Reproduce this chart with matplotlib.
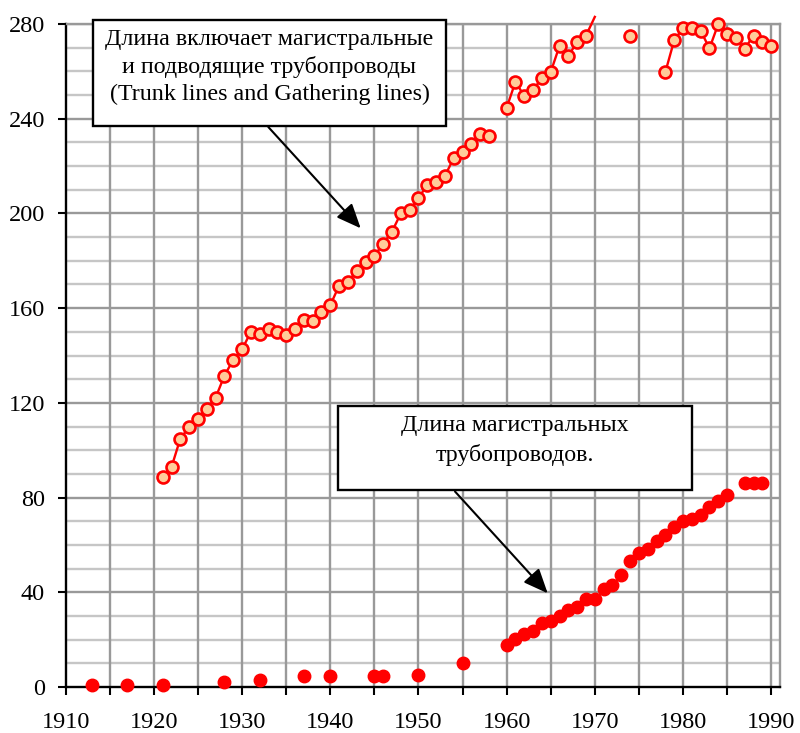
import numpy as np
import matplotlib
matplotlib.use("Agg")
import matplotlib.pyplot as plt
from matplotlib.patches import Rectangle

# ---- data ----
nan = np.nan
s1_years = list(range(1921, 1991))
s1_values = [88.7, 92.9, 104.9, 109.8, 113.3, 117.3, 122.2, 131.5, 138.2, 142.6,
             150.0, 149.2, 151.1, 150.0, 148.5, 151.1, 155.1, 154.4, 158.5, 161.2,
             169.5, 171.2, 175.5, 179.5, 182.1, 187.2, 192.3, 200.0, 201.4, 206.6,
             211.9, 213.4, 215.8, 223.4, 225.9, 229.3, 233.6, 232.8, nan, 244.6,
             255.6, 249.6, 252.2, 257.1, 259.7, 270.8, 266.5, 272.5, 275.1, 283.0,
             nan, nan, nan, 275.0, nan, nan, nan, 259.7, 273.1, 278.3,
             278.3, 277.2, 269.7, 280.0, 275.8, 273.9, 269.6, 275.1, 272.2, 270.7]

s2_years = [1913, 1917, 1921, 1928, 1932, 1937, 1940, 1945, 1946, 1950, 1955,
            1960, 1961, 1962, 1963, 1964, 1965, 1966, 1967, 1968, 1969, 1970,
            1971, 1972, 1973, 1974, 1975, 1976, 1977, 1978, 1979, 1980, 1981,
            1982, 1983, 1984, 1985, 1987, 1988, 1989]
s2_values = [1.0, 1.0, 1.0, 2.0, 2.8, 4.5, 4.5, 4.5, 4.5, 5.2, 10.3,
             17.7, 20.4, 22.2, 23.8, 27.2, 28.0, 29.8, 32.4, 33.9, 37.2, 37.2,
             41.3, 43.0, 47.3, 53.3, 56.6, 58.3, 61.8, 64.3, 67.6, 70.0, 70.8,
             72.8, 76.0, 78.4, 81.0, 86.1, 86.1, 86.1]

x_ticks_major = list(range(1910, 1991, 10))
y_ticks_major = list(range(0, 281, 40))

label_box1 = ["Длина включает магистральные",
              "и подводящие трубопроводы",
              "(Trunk lines and Gathering lines)"]
label_box2 = ["Длина магистральных", "трубопроводов."]

# ---- figure ----
W, H = 800, 733
fig = plt.figure(figsize=(W / 100, H / 100), dpi=100)
ax = fig.add_axes([65.7 / W, 1 - 687 / H, (780 - 65.7) / W, (687 - 24) / H])
serif = "Liberation Serif"

XMIN, XMAX, YMIN, YMAX = 1910, 1991, 0, 280
ax.set_xlim(XMIN, XMAX)
ax.set_ylim(YMIN, YMAX)

# grid
dark = "#999999"
light = "#c6c6c6"
for yv in range(10, 280, 10):
    if yv % 40 != 0:
        ax.axhline(yv, color=light, lw=1.7, zorder=0)
for yv in range(40, 281, 40):
    ax.axhline(yv, color=dark, lw=1.7, zorder=0.5)
for xv in range(1915, 1991, 5):
    ax.axvline(xv, color=dark, lw=1.7, zorder=0.5)

# spines
for side in ("left", "bottom"):
    ax.spines[side].set_color("black")
    ax.spines[side].set_linewidth(1.7)
for side in ("top", "right"):
    ax.spines[side].set_color(dark)
    ax.spines[side].set_linewidth(1.7)
for s in ax.spines.values():
    s.set_zorder(1)

ax.set_xticks(list(range(1910, 1991, 5)))
ax.set_xticklabels([str(x) if x in x_ticks_major else "" for x in range(1910, 1991, 5)])
ax.set_yticks(y_ticks_major)
ax.set_yticklabels([str(y) for y in y_ticks_major])
ax.tick_params(axis="both", direction="out", length=6, width=1.5, color="black",
               labelsize=17.5)
ax.tick_params(axis="x", pad=12)
ax.tick_params(axis="y", pad=9)
for lab in ax.get_xticklabels() + ax.get_yticklabels():
    lab.set_fontfamily(serif)

# series 1 (total length)
v1 = np.array(s1_values, dtype=float)
ax.plot(s1_years, v1, color="red", lw=1.7, zorder=3, clip_on=False)
mk1 = np.where(v1 <= YMAX, v1, np.nan)
ax.plot(s1_years, mk1, ls="none", marker="o", ms=8.6, mfc="#FFCC99",
        mec="red", mew=1.9, zorder=4, clip_on=False)

# series 2 (trunk lines)
ax.plot(s2_years, s2_values, ls="none", marker="o", ms=9.0, mfc="red",
        mec="red", zorder=4, clip_on=False)

# ---- annotation boxes (pixel positions from top-left) ----
def fx(px):
    return px / W

def fy(py):
    return 1 - py / H

def box(x0, y0, x1, y1):
    r = Rectangle((fx(x0), fy(y1)), fx(x1) - fx(x0), fy(y0) - fy(y1),
                  transform=fig.transFigure, facecolor="white",
                  edgecolor="black", lw=1.7, zorder=10)
    fig.add_artist(r)

box(93, 20, 446, 126)
for i, t in enumerate(label_box1):
    fig.text(fx(269.5), fy(39 + i * 27.7), t, ha="center", va="center",
             fontsize=17.3, family=serif, zorder=11)

box(338, 406, 692, 490)
for i, t in enumerate(label_box2):
    fig.text(fx(515), fy(425 + i * 30), t, ha="center", va="center",
             fontsize=17.3, family=serif, zorder=11)

# arrows
def arrow(x0, y0, x1, y1):
    a = ax.annotate("", xy=(x1, H - y1), xycoords="figure pixels",
                    xytext=(x0, H - y0), textcoords="figure pixels",
                    arrowprops=dict(arrowstyle="-|>,head_length=0.75,head_width=0.32",
                                    color="black", lw=1.5, shrinkA=0, shrinkB=0,
                                    mutation_scale=20),
                    annotation_clip=False)
    a.set_zorder(9)

arrow(268.3, 127, 360.7, 228.3)
arrow(455, 491.5, 547.7, 593.3)

fig.savefig("out.png", dpi=100)
